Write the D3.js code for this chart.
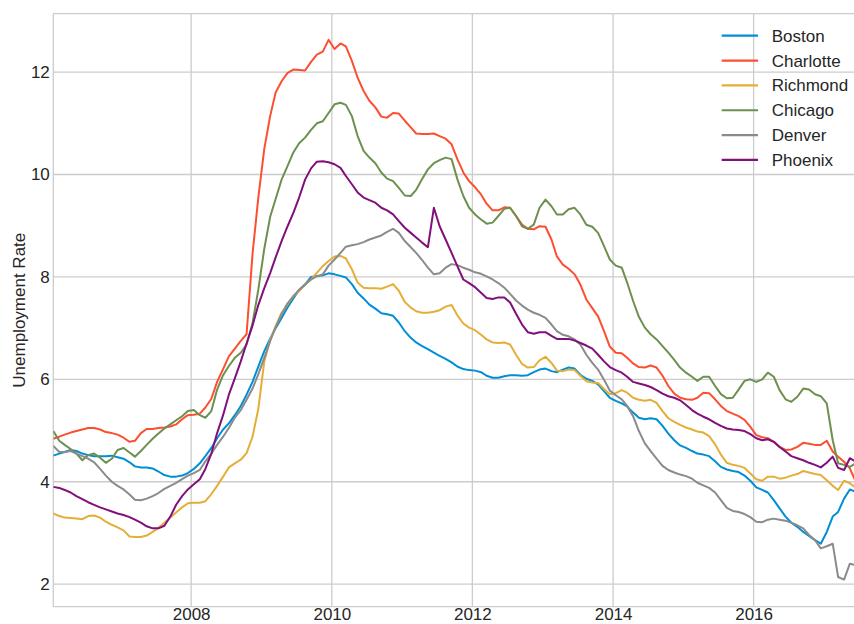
<!DOCTYPE html>
<html>
<head>
<meta charset="utf-8">
<script src="https://cdn.jsdelivr.net/npm/d3@7"></script>
<style>
  body { margin: 0; background: #fff; }
  svg { display: block; }
  text { font-family: "Liberation Sans", Arial, sans-serif; fill: #262626; }
</style>
</head>
<body>
<svg class="chart" width="854" height="624"></svg>
<script>
// monthly unemployment rate, Jan 2006 .. Jun 2017 (one row per year)
var boston = [
  4.51, 4.55, 4.58, 4.62, 4.60, 4.55, 4.52, 4.50, 4.50, 4.50, 4.51, 4.48,
  4.45, 4.38, 4.30, 4.28, 4.28, 4.26, 4.20, 4.13, 4.10, 4.10, 4.12, 4.17,
  4.25, 4.36, 4.50, 4.66, 4.85, 5.02, 5.14, 5.30, 5.48, 5.70, 5.95, 6.25,
  6.55, 6.80, 7.00, 7.20, 7.40, 7.58, 7.74, 7.85, 8.00, 8.02, 8.03, 8.07,
  8.05, 8.02, 7.99, 7.86, 7.69, 7.58, 7.46, 7.38, 7.29, 7.27, 7.24, 7.11,
  6.94, 6.81, 6.72, 6.65, 6.59, 6.52, 6.46, 6.40, 6.33, 6.25, 6.20, 6.18,
  6.17, 6.14, 6.07, 6.03, 6.03, 6.06, 6.08, 6.08, 6.07, 6.08, 6.14, 6.19,
  6.21, 6.16, 6.14, 6.19, 6.23, 6.21, 6.09, 6.01, 5.97, 5.90, 5.77, 5.64,
  5.58, 5.53, 5.47, 5.35, 5.25, 5.22, 5.24, 5.22, 5.09, 4.94, 4.81, 4.71,
  4.66, 4.60, 4.55, 4.53, 4.50, 4.40, 4.29, 4.24, 4.21, 4.19, 4.12, 4.02,
  3.89, 3.84, 3.79, 3.64, 3.48, 3.32, 3.20, 3.12, 3.02, 2.94, 2.86, 2.79,
  3.02, 3.32, 3.41, 3.67, 3.85, 3.80
]
var charlotte = [
  4.84, 4.88, 4.92, 4.96, 4.99, 5.02, 5.05, 5.05, 5.02, 4.97, 4.95, 4.92,
  4.86, 4.78, 4.80, 4.95, 5.03, 5.03, 5.05, 5.06, 5.08, 5.12, 5.22, 5.30,
  5.31, 5.33, 5.45, 5.62, 5.95, 6.20, 6.45, 6.60, 6.75, 6.88, 8.45, 9.55,
  10.50, 11.15, 11.60, 11.82, 11.98, 12.05, 12.04, 12.03, 12.20, 12.34, 12.40, 12.63,
  12.45, 12.56, 12.50, 12.22, 11.89, 11.63, 11.44, 11.31, 11.13, 11.11, 11.20, 11.19,
  11.05, 10.92, 10.80, 10.79, 10.79, 10.80, 10.75, 10.70, 10.59, 10.30, 10.04, 9.87,
  9.75, 9.61, 9.43, 9.30, 9.30, 9.36, 9.35, 9.19, 9.02, 8.94, 8.93, 8.99,
  8.98, 8.73, 8.40, 8.24, 8.16, 8.05, 7.85, 7.56, 7.39, 7.23, 6.94, 6.64,
  6.52, 6.51, 6.42, 6.31, 6.24, 6.23, 6.27, 6.23, 6.07, 5.87, 5.72, 5.64,
  5.61, 5.60, 5.64, 5.74, 5.73, 5.61, 5.48, 5.38, 5.33, 5.28, 5.21, 5.07,
  4.91, 4.87, 4.85, 4.78, 4.68, 4.62, 4.63, 4.68, 4.76, 4.74, 4.72, 4.72,
  4.80, 4.59, 4.49, 4.39, 4.26, 4.00
]
var richmond = [
  3.38, 3.33, 3.30, 3.29, 3.28, 3.27, 3.33, 3.34, 3.30, 3.22, 3.16, 3.11,
  3.05, 2.93, 2.92, 2.92, 2.95, 3.02, 3.10, 3.20, 3.30, 3.40, 3.50, 3.58,
  3.59, 3.59, 3.62, 3.76, 3.92, 4.10, 4.28, 4.36, 4.43, 4.56, 4.88, 5.42,
  6.35, 6.78, 7.04, 7.30, 7.46, 7.63, 7.72, 7.86, 7.95, 8.08, 8.21, 8.31,
  8.40, 8.41, 8.36, 8.15, 7.89, 7.79, 7.78, 7.78, 7.77, 7.81, 7.86, 7.73,
  7.51, 7.40, 7.33, 7.30, 7.30, 7.32, 7.35, 7.42, 7.45, 7.25, 7.09, 7.01,
  6.96, 6.87, 6.78, 6.72, 6.71, 6.72, 6.68, 6.48, 6.30, 6.23, 6.24, 6.37,
  6.44, 6.32, 6.17, 6.16, 6.19, 6.18, 6.07, 5.96, 5.94, 5.93, 5.81, 5.71,
  5.73, 5.79, 5.74, 5.64, 5.60, 5.58, 5.60, 5.54, 5.38, 5.24, 5.17, 5.11,
  5.06, 5.02, 4.98, 4.96, 4.89, 4.73, 4.53, 4.37, 4.33, 4.31, 4.27, 4.16,
  4.05, 4.02, 4.10, 4.10, 4.06, 4.08, 4.12, 4.15, 4.21, 4.18, 4.15, 4.13,
  4.03, 3.92, 3.84, 4.02, 3.97, 3.88
]
var chicago = [
  4.99, 4.80, 4.72, 4.64, 4.55, 4.42, 4.52, 4.55, 4.47, 4.37, 4.45, 4.62,
  4.66, 4.57, 4.49, 4.60, 4.72, 4.84, 4.94, 5.04, 5.12, 5.20, 5.28, 5.38,
  5.40, 5.30, 5.25, 5.38, 5.80, 6.08, 6.26, 6.42, 6.52, 6.68, 7.10, 7.75,
  8.55, 9.18, 9.52, 9.90, 10.16, 10.43, 10.61, 10.72, 10.87, 11.00, 11.04, 11.20,
  11.37, 11.40, 11.36, 11.14, 10.75, 10.46, 10.33, 10.22, 10.04, 9.92, 9.87, 9.74,
  9.59, 9.58, 9.70, 9.91, 10.10, 10.22, 10.28, 10.33, 10.30, 9.91, 9.58, 9.35,
  9.22, 9.12, 9.04, 9.06, 9.19, 9.33, 9.35, 9.19, 8.99, 8.94, 9.02, 9.35,
  9.51, 9.38, 9.22, 9.22, 9.32, 9.35, 9.22, 9.02, 8.98, 8.86, 8.60, 8.34,
  8.22, 8.18, 7.89, 7.53, 7.22, 7.01, 6.88, 6.78, 6.65, 6.52, 6.38, 6.23,
  6.13, 6.05, 5.97, 6.05, 6.05, 5.87, 5.71, 5.63, 5.64, 5.80, 5.97, 6.00,
  5.95, 6.00, 6.13, 6.05, 5.79, 5.61, 5.56, 5.66, 5.82, 5.80, 5.71, 5.67,
  5.53, 4.81, 4.36, 4.33, 4.29, 4.36
]
var denver = [
  4.70, 4.58, 4.58, 4.60, 4.55, 4.50, 4.45, 4.38, 4.25, 4.12, 4.00, 3.92,
  3.85, 3.75, 3.65, 3.64, 3.67, 3.72, 3.78, 3.86, 3.92, 3.98, 4.05, 4.12,
  4.17, 4.23, 4.40, 4.55, 4.72, 4.88, 5.05, 5.25, 5.40, 5.60, 5.82, 6.10,
  6.42, 6.75, 7.02, 7.27, 7.48, 7.62, 7.75, 7.85, 7.95, 8.01, 8.05, 8.22,
  8.34, 8.47, 8.59, 8.62, 8.64, 8.68, 8.73, 8.77, 8.81, 8.88, 8.94, 8.86,
  8.70, 8.58, 8.47, 8.33, 8.18, 8.05, 8.07, 8.18, 8.25, 8.23, 8.18, 8.14,
  8.09, 8.06, 8.01, 7.95, 7.88, 7.79, 7.67, 7.54, 7.44, 7.36, 7.30, 7.26,
  7.20, 7.07, 6.94, 6.87, 6.84, 6.78, 6.68, 6.48, 6.32, 6.19, 5.99, 5.78,
  5.69, 5.61, 5.48, 5.28, 4.99, 4.75, 4.60, 4.45, 4.31, 4.23, 4.18, 4.14,
  4.11, 4.06, 3.98, 3.93, 3.88, 3.79, 3.64, 3.49, 3.43, 3.41, 3.37, 3.31,
  3.22, 3.21, 3.26, 3.28, 3.26, 3.24, 3.20, 3.15, 3.09, 2.96, 2.86, 2.70,
  2.74, 2.79, 2.14, 2.09, 2.40, 2.37
]
var phoenix = [
  3.90, 3.88, 3.84, 3.79, 3.72, 3.66, 3.60, 3.55, 3.50, 3.46, 3.42, 3.38,
  3.35, 3.31, 3.26, 3.20, 3.13, 3.09, 3.09, 3.14, 3.32, 3.55, 3.72, 3.85,
  3.95, 4.05, 4.25, 4.55, 4.95, 5.30, 5.70, 6.02, 6.35, 6.70, 7.05, 7.45,
  7.78, 8.08, 8.38, 8.70, 8.98, 9.25, 9.55, 9.90, 10.12, 10.25, 10.26, 10.24,
  10.20, 10.13, 9.97, 9.81, 9.65, 9.55, 9.50, 9.45, 9.35, 9.30, 9.22, 9.09,
  8.96, 8.86, 8.77, 8.67, 8.58, 9.35, 8.99, 8.73, 8.47, 8.21, 7.95, 7.88,
  7.80, 7.69, 7.59, 7.57, 7.60, 7.60, 7.50, 7.28, 7.07, 6.92, 6.89, 6.92,
  6.92, 6.85, 6.79, 6.79, 6.79, 6.76, 6.71, 6.66, 6.60, 6.48, 6.35, 6.24,
  6.18, 6.13, 6.05, 5.95, 5.92, 5.89, 5.85, 5.79, 5.72, 5.67, 5.64, 5.59,
  5.50, 5.40, 5.33, 5.27, 5.22, 5.15, 5.09, 5.04, 5.02, 5.01, 4.99, 4.93,
  4.85, 4.81, 4.83, 4.78, 4.68, 4.59, 4.50, 4.46, 4.42, 4.37, 4.33, 4.28,
  4.37, 4.49, 4.27, 4.23, 4.46, 4.39
]

var cities = ["Boston", "Charlotte", "Richmond", "Chicago", "Denver", "Phoenix"]
var colors = ["#008fd5", "#fc4f30", "#e5ae38", "#6d904f", "#8b8b8b", "#810f7c"]
var seriesValues = [boston, charlotte, richmond, chicago, denver, phoenix]
var xTickYears = [2008, 2010, 2012, 2014, 2016]
var yTickValues = [2, 4, 6, 8, 10, 12]

var months = d3.range(boston.length).map(function(i) { return new Date(2006, i, 15) })

var plotLeft = 53.3, plotTop = 13.7, plotBottom = 606.7, plotRight = 856

function initializeChart() {
  var svg = d3.select(".chart")

  var x = d3.scaleTime()
      .domain([months[0], months[months.length - 1]])
      .range([plotLeft, 53 + (months.length - 1) * 5.86])
  var y = d3.scaleLinear()
      .domain([1.56, 13.14])
      .range([plotBottom, plotTop])

  var tickDates = xTickYears.map(function(yr) { return new Date(yr, 0, 1) })

  // grid
  svg.append("g").selectAll("line")
      .data(tickDates)
      .enter()
      .append("line")
        .attr("x1", function(d) { return x(d) })
        .attr("x2", function(d) { return x(d) })
        .attr("y1", plotTop)
        .attr("y2", plotBottom)
        .attr("stroke", "#cccccc")
        .attr("stroke-width", 1.3)

  svg.append("g").selectAll("line")
      .data(yTickValues)
      .enter()
      .append("line")
        .attr("x1", plotLeft)
        .attr("x2", plotRight)
        .attr("y1", function(d) { return y(d) })
        .attr("y2", function(d) { return y(d) })
        .attr("stroke", "#cccccc")
        .attr("stroke-width", 1.3)

  // spines
  var spines = svg.append("g")
      .attr("stroke", "#cccccc")
      .attr("stroke-width", 1.3)
  spines.append("line").attr("x1", plotLeft).attr("x2", plotRight).attr("y1", plotTop).attr("y2", plotTop)
  spines.append("line").attr("x1", plotLeft).attr("x2", plotRight).attr("y1", plotBottom).attr("y2", plotBottom)
  spines.append("line").attr("x1", plotLeft).attr("x2", plotLeft).attr("y1", plotTop).attr("y2", plotBottom)

  // axes (labels only, whitegrid style has no tick marks)
  svg.append("g")
      .attr("transform", "translate(0," + plotBottom + ")")
      .call(d3.axisBottom(x)
        .tickValues(tickDates)
        .tickFormat(d3.timeFormat("%Y"))
        .tickSize(0)
        .tickPadding(1.5))
  svg.append("g")
      .attr("transform", "translate(" + plotLeft + ",0)")
      .call(d3.axisLeft(y)
        .tickValues(yTickValues)
        .tickFormat(d3.format("d"))
        .tickSize(0)
        .tickPadding(3.5))

  svg.selectAll(".domain").remove()
  svg.selectAll(".tick text")
      .attr("font-size", 17)
      .attr("font-family", "'Liberation Sans', Arial, sans-serif")
      .attr("fill", "#262626")

  svg.append("text")
      .attr("transform", "translate(25," + ((plotTop + plotBottom) / 2) + ") rotate(-90)")
      .attr("text-anchor", "middle")
      .attr("font-size", 17)
      .text("Unemployment Rate")

  // lines
  svg.append("clipPath")
      .attr("id", "plot-clip")
    .append("rect")
      .attr("x", plotLeft)
      .attr("y", plotTop)
      .attr("width", plotRight - plotLeft)
      .attr("height", plotBottom - plotTop)

  var line = d3.line()
      .x(function(d, i) { return x(months[i]) })
      .y(function(d) { return y(d) })

  svg.append("g")
      .attr("clip-path", "url(#plot-clip)")
    .selectAll("path")
      .data(seriesValues)
      .enter()
      .append("path")
        .attr("d", line)
        .attr("fill", "none")
        .attr("stroke", function(d, i) { return colors[i] })
        .attr("stroke-width", 2)
        .attr("stroke-linejoin", "round")

  // legend
  var legend = svg.append("g")
      .selectAll("g")
      .data(cities)
      .enter()
      .append("g")
        .attr("transform", function(d, i) { return "translate(0," + (35.7 + i * 24.85) + ")" })

  legend.append("line")
      .attr("x1", 721.7)
      .attr("x2", 758)
      .attr("stroke", function(d, i) { return colors[i] })
      .attr("stroke-width", 2.2)
  legend.append("text")
      .attr("x", 771.7)
      .attr("dy", "0.35em")
      .attr("font-size", 17)
      .text(function(d) { return d })
}

initializeChart()
</script>
</body>
</html>
